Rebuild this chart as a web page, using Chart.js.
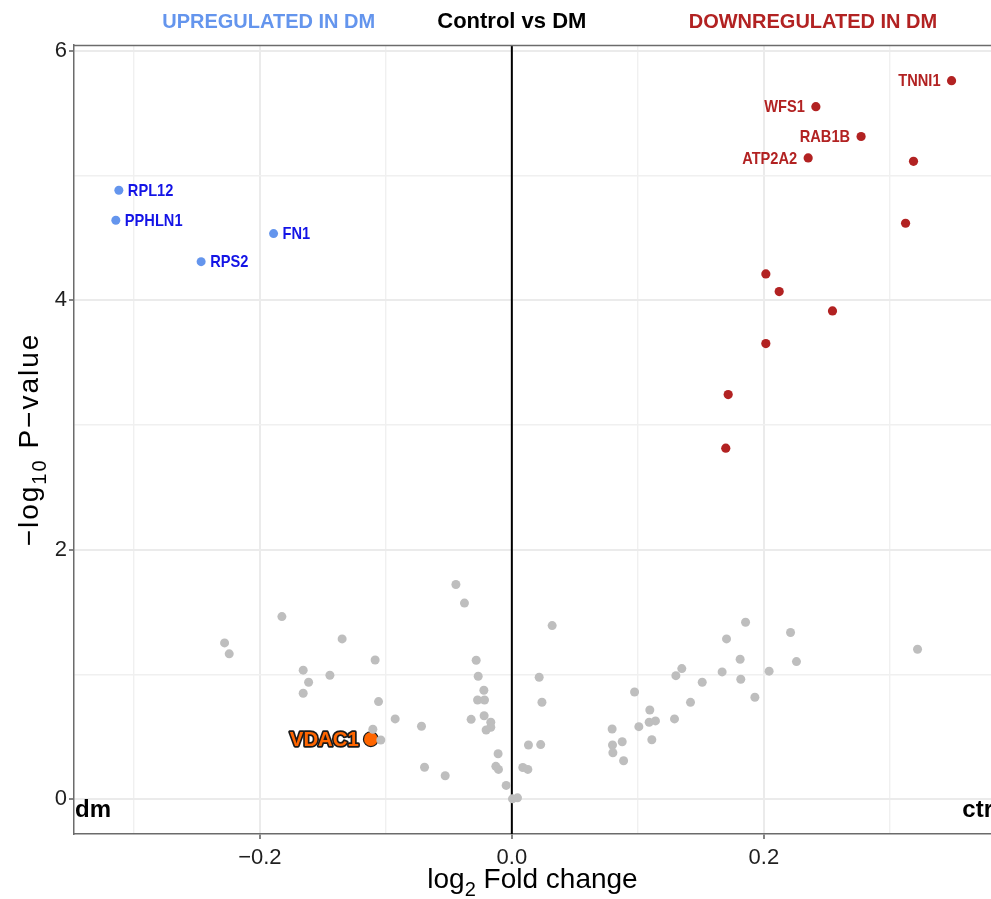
<!DOCTYPE html>
<html>
<head>
<meta charset="utf-8">
<script src="https://cdn.jsdelivr.net/npm/chart.js@4/dist/chart.umd.min.js"></script>
<style>
  html, body { margin: 0; padding: 0; background: #ffffff; overflow: hidden; }
  #wrap { width: 991px; height: 899px; position: relative; }
  canvas { display: block; }
</style>
</head>
<body>
<div id="wrap"><canvas id="c" width="991" height="899"></canvas></div>
<script>
// ---------------- DATA ----------------
const grayX = [-0.0444,-0.0376,-0.1825,-0.2280,-0.2243,-0.1347,-0.1085,-0.1656,-0.1444,-0.1613,-0.1656,-0.1058,-0.0926,-0.0717,-0.1103,-0.1040,-0.0693,-0.0529,-0.0283,-0.0267,-0.0222,-0.0272,-0.0217,-0.0220,-0.0323,-0.0167,-0.0167,-0.0204,-0.0109,-0.0127,-0.0106,-0.0045,0.0005,0.0045,
  0.0320,0.0217,0.0239,0.0132,0.0229,0.0087,0.0127,0.0796,0.0799,0.0802,0.0876,0.0887,0.0974,0.1008,0.1095,0.1090,0.1140,0.1111,0.1291,0.1302,0.1349,0.1418,0.1511,0.1669,0.1704,0.1855,0.1812,0.1817,0.1929,0.2042,0.2212,0.2259,0.3220];
const grayY = [1.721,1.572,1.464,1.253,1.165,1.285,1.116,1.034,0.993,0.937,0.849,0.782,0.643,0.584,0.560,0.474,0.255,0.187,1.114,0.985,0.873,0.795,0.795,0.669,0.640,0.616,0.576,0.554,0.364,0.263,0.238,0.110,0.002,0.010,
  1.392,0.977,0.777,0.434,0.437,0.253,0.238,0.562,0.434,0.372,0.460,0.308,0.859,0.581,0.715,0.616,0.627,0.476,0.643,0.990,1.047,0.776,0.937,1.020,1.285,1.419,1.122,0.961,0.817,1.026,1.336,1.103,1.202];

const upGenes = ['RPL12','PPHLN1','FN1','RPS2'];
const upX = [-0.3119,-0.3143,-0.1891,-0.2466];
const upY = [4.884,4.643,4.536,4.311];

const downGenes = ['TNNI1','WFS1','RAB1B','ATP2A2','','','','','','','',''];
const downX = [0.3490,0.2413,0.2772,0.2352,0.3188,0.3125,0.2016,0.2122,0.2545,0.2016,0.1717,0.1698];
const downY = [5.763,5.554,5.315,5.143,5.116,4.619,4.213,4.071,3.916,3.654,3.245,2.815];

const hiGenes = ['VDAC1'];
const hiX = [-0.1119];
const hiY = [0.481];

const xTickValues = [-0.3,-0.2,-0.1,0,0.1,0.2,0.3];
const xMajorValues = [-0.2,0,0.2];
const xTickLabels = ['\u22120.2','0.0','0.2'];
const yTickValues = [0,1,2,3,4,5,6];
const yMajorValues = [0,2,4,6];
const yTickLabels = ['0','2','4','6'];
const zeroLineX = 0;

const headerTexts = ['UPREGULATED IN DM','Control vs DM','DOWNREGULATED IN DM'];
const headerX = [-0.193, 0, 0.239];
const cornerLabels = ['dm','ctr'];

// ---------------- STYLE ----------------
const FONT = '"Liberation Sans", Arial, Helvetica, sans-serif';
const GRAY = '#BEBEBE';
const RED = '#B22222';
const BLUE_PT = '#6495ED';
const BLUE_TXT = '#1414E6';
const ORANGE = '#FF6600';

function toPts(xs, ys){ return xs.map((x,i)=>({x:x, y:ys[i]})); }
function isMajor(list, v){ return v !== null && v !== undefined && list.some(m => Math.abs(m - v) < 1e-9); }

const annotPlugin = {
  id: 'annot',
  beforeDraw(chart){
    const ctx = chart.ctx;
    ctx.save();
    ctx.fillStyle = '#ffffff';
    ctx.fillRect(0,0,chart.width,chart.height);
    ctx.restore();
  },
  beforeDatasetsDraw(chart){
    const ctx = chart.ctx;
    const xs = chart.scales.x;
    const ca = chart.chartArea;
    const px = xs.getPixelForValue(zeroLineX);
    ctx.save();
    ctx.strokeStyle = '#000000';
    ctx.lineWidth = 2;
    ctx.beginPath();
    ctx.moveTo(px, ca.top);
    ctx.lineTo(px, ca.bottom);
    ctx.stroke();
    ctx.restore();
  },
  afterDraw(chart){
    const ctx = chart.ctx;
    const xs = chart.scales.x, ys = chart.scales.y;
    const ca = chart.chartArea;
    ctx.save();
    // top border of panel
    ctx.strokeStyle = '#6b6b6b';
    ctx.lineWidth = 1.5;
    ctx.beginPath();
    ctx.moveTo(ca.left, ca.top + 0.5);
    ctx.lineTo(ca.right, ca.top + 0.5);
    ctx.stroke();

    // header texts
    ctx.textBaseline = 'alphabetic';
    ctx.textAlign = 'center';
    const hColors = [BLUE_PT, '#000000', RED];
    headerTexts.forEach((t,i)=>{
      ctx.font = 'bold ' + (i===1 ? 22 : 20) + 'px ' + FONT;
      ctx.fillStyle = hColors[i];
      ctx.fillText(t, xs.getPixelForValue(headerX[i]), 28);
    });

    // corner labels dm / ctr
    ctx.font = 'bold 24px ' + FONT;
    ctx.fillStyle = '#000000';
    const y0 = ys.getPixelForValue(0) + 17.5;
    ctx.textAlign = 'left';
    ctx.fillText(cornerLabels[0], ca.left + 1, y0);
    ctx.textAlign = 'right';
    ctx.fillText(cornerLabels[1], ca.right + 2, y0);

    // point labels: up
    const metaUp = chart.getDatasetMeta(1);
    ctx.font = 'bold 17px ' + FONT;
    ctx.textBaseline = 'middle';
    upGenes.forEach((g,i)=>{
      const p = metaUp.data[i];
      ctx.save();
      ctx.translate(p.x + 9, p.y + 1);
      ctx.scale(0.86, 1);
      ctx.textAlign = 'left';
      ctx.fillStyle = BLUE_TXT;
      ctx.fillText(g, 0, 0);
      ctx.restore();
    });
    // point labels: down
    const metaDown = chart.getDatasetMeta(2);
    downGenes.forEach((g,i)=>{
      if (!g) return;
      const p = metaDown.data[i];
      ctx.save();
      ctx.translate(p.x - 11, p.y + 1);
      ctx.scale(0.86, 1);
      ctx.textAlign = 'right';
      ctx.fillStyle = RED;
      ctx.fillText(g, 0, 0);
      ctx.restore();
    });
    // highlighted gene
    const metaHi = chart.getDatasetMeta(3);
    hiGenes.forEach((g,i)=>{
      const p = metaHi.data[i];
      ctx.save();
      ctx.font = 'bold 21px ' + FONT;
      ctx.textAlign = 'right';
      ctx.textBaseline = 'middle';
      ctx.lineJoin = 'round';
      ctx.lineWidth = 3.5;
      ctx.strokeStyle = '#1a1a1a';
      ctx.translate(p.x - 12, p.y + 1);
      ctx.scale(0.97, 1);
      ctx.strokeText(g, 0, 0);
      ctx.fillStyle = ORANGE;
      ctx.fillText(g, 0, 0);
      ctx.restore();
    });

    // axis titles with subscripts
    function drawParts(parts, size, spacing){
      const subSize = Math.round(size * 0.72);
      ctx.letterSpacing = spacing + 'px';
      let total = 0;
      parts.forEach(p=>{
        ctx.font = (p.sub ? subSize : size) + 'px ' + FONT;
        p.w = ctx.measureText(p.t).width;
        total += p.w;
      });
      let x = -total/2;
      parts.forEach(p=>{
        ctx.font = (p.sub ? subSize : size) + 'px ' + FONT;
        ctx.fillText(p.t, x, p.sub ? size*0.28 : 0);
        x += p.w;
      });
      ctx.letterSpacing = '0px';
    }
    ctx.fillStyle = '#000000';
    ctx.textAlign = 'left';
    ctx.textBaseline = 'alphabetic';
    ctx.save();
    ctx.translate((ca.left + ca.right)/2, 888);
    drawParts([{t:'log'},{t:'2',sub:true},{t:' Fold change'}], 28, 0);
    ctx.restore();
    ctx.save();
    ctx.translate(38, (ca.top + ca.bottom)/2);
    ctx.rotate(-Math.PI/2);
    drawParts([{t:'\u2212log'},{t:'10',sub:true},{t:' P\u2212value'}], 28, 2);
    ctx.restore();

    ctx.restore();
  }
};

const chart = new Chart(document.getElementById('c'), {
  type: 'scatter',
  data: {
    datasets: [
      { label: 'ns', data: toPts(grayX, grayY), backgroundColor: GRAY, borderWidth: 0, pointRadius: 4.5, pointHoverRadius: 4.5 },
      { label: 'up', data: toPts(upX, upY), backgroundColor: BLUE_PT, borderWidth: 0, pointRadius: 4.5, pointHoverRadius: 4.5 },
      { label: 'down', data: toPts(downX, downY), backgroundColor: RED, borderWidth: 0, pointRadius: 4.6, pointHoverRadius: 4.6 },
      { label: 'highlight', data: toPts(hiX, hiY), backgroundColor: ORANGE, borderColor: '#1a1a1a', borderWidth: 1.2, pointRadius: 7.4, pointHoverRadius: 7.4 }
    ]
  },
  options: {
    responsive: false,
    animation: false,
    events: [],
    layout: { autoPadding: false, padding: { top: 45, right: 0, bottom: 0, left: 0 } },
    plugins: { legend: { display: false }, tooltip: { enabled: false }, title: { display: false } },
    scales: {
      x: {
        type: 'linear',
        min: -0.3475,
        max: 0.3803,
        afterFit(scale){ scale.height = 65; scale.paddingRight = 0; scale.paddingLeft = 0; },
        afterBuildTicks(scale){ scale.ticks = xTickValues.map(v=>({value:v})); },
        ticks: {
          autoSkip: false,
          maxRotation: 0,
          padding: 6,
          color: '#1f1f1f',
          font: { family: FONT, size: 22 },
          callback(v){ const k = xMajorValues.findIndex(m=>Math.abs(m-v)<1e-9); return k >= 0 ? xTickLabels[k] : ''; }
        },
        grid: {
          drawOnChartArea: true,
          tickLength: 5,
          color(c){ const v = c.tick ? c.tick.value : null; return isMajor(xMajorValues, v) ? '#EBEBEB' : '#F0F0F0'; },
          lineWidth(c){ const v = c.tick ? c.tick.value : null; return isMajor(xMajorValues, v) ? 2 : 1.4; },
          tickColor(c){ const v = c.tick ? c.tick.value : null; return isMajor(xMajorValues, v) ? '#333333' : 'rgba(0,0,0,0)'; },
          tickWidth: 1.2
        },
        border: { display: true, color: '#6b6b6b', width: 1.5 }
      },
      y: {
        type: 'linear',
        min: -0.28,
        max: 6.049,
        afterFit(scale){ scale.width = 74; scale.paddingTop = 0; scale.paddingBottom = 0; },
        afterBuildTicks(scale){ scale.ticks = yTickValues.map(v=>({value:v})); },
        ticks: {
          autoSkip: false,
          padding: 2,
          color: '#1f1f1f',
          font: { family: FONT, size: 22 },
          callback(v){ const k = yMajorValues.findIndex(m=>Math.abs(m-v)<1e-9); return k >= 0 ? yTickLabels[k] : ''; }
        },
        grid: {
          tickLength: 5,
          color(c){ const v = c.tick ? c.tick.value : null; return isMajor(yMajorValues, v) ? '#EBEBEB' : '#F0F0F0'; },
          lineWidth(c){ const v = c.tick ? c.tick.value : null; return isMajor(yMajorValues, v) ? 2 : 1.4; },
          tickColor(c){ const v = c.tick ? c.tick.value : null; return isMajor(yMajorValues, v) ? '#333333' : 'rgba(0,0,0,0)'; },
          tickWidth: 1.2
        },
        border: { display: true, color: '#6b6b6b', width: 1.5 }
      }
    }
  },
  plugins: [annotPlugin]
});
</script>
</body>
</html>
